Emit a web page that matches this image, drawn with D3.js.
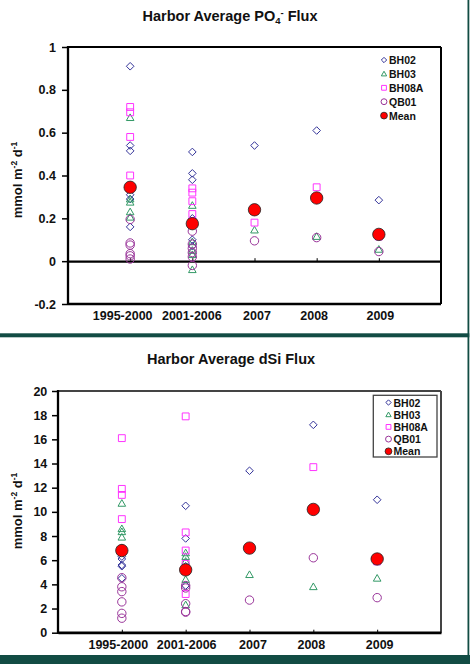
<!DOCTYPE html>
<html>
<head>
<meta charset="utf-8">
<script src="https://cdn.jsdelivr.net/npm/d3@7"></script>
<style>
  body { margin: 0; background: #fff; }
  svg { display: block; font-family: 'Liberation Sans', Arial, sans-serif; font-weight: bold; }
</style>
</head>
<body>
<svg id="chart" width="470" height="664"></svg>
<script>
// Harbor average benthic fluxes — two stacked scatter panels (PO4, dSi)

const CATEGORIES = ['1995-2000', '2001-2006', '2007', '2008', '2009'];
const SERIES_NAMES = ['BH02', 'BH03', 'BH08A', 'QB01', 'Mean'];

// PO4 flux, one inner list per category
const PO4_BH02  = [[0.91, 0.54, 0.515, 0.31, 0.29, 0.16], [0.51, 0.41, 0.38, 0.20, 0.10, 0.07], [0.54], [0.61], [0.285]];
const PO4_BH03  = [[0.67, 0.29, 0.275, 0.23, 0.205], [0.26, 0.09, 0.05, 0.03, -0.04], [0.145], [0.115], [0.055]];
const PO4_BH08A = [[0.72, 0.695, 0.58, 0.40], [0.34, 0.32, 0.28, 0.22], [0.18], [0.345], [0.115]];
const PO4_QB01  = [[0.195, 0.085, 0.075, 0.035, 0.025, 0.01], [0.14, 0.08, 0.06, 0.04, 0.02, -0.02], [0.095], [0.11], [0.045]];
const PO4_MEAN  = [0.345, 0.175, 0.24, 0.295, 0.125];
const PO4_TICKS = [-0.2, 0, 0.2, 0.4, 0.6, 0.8, 1];

// dSi flux
const DSI_BH02  = [[6.3, 6.1, 5.6, 5.5, 4.5], [10.5, 7.8, 5.5, 3.9], [13.4], [17.2], [11.0]];
const DSI_BH03  = [[10.7, 8.6, 8.35, 7.9, 7.0], [6.6, 6.3, 5.9, 4.4, 2.3], [4.8], [3.8], [4.5]];
const DSI_BH08A = [[16.1, 11.9, 11.4, 9.4], [17.9, 8.3, 6.8, 5.7, 3.2], [], [13.7], [5.9]];
const DSI_QB01  = [[4.55, 3.8, 3.4, 2.55, 1.6, 1.2], [3.9, 3.7, 2.4, 1.75, 1.7], [2.7], [6.2], [2.9]];
const DSI_MEAN  = [6.8, 5.2, 7.0, 10.2, 6.1];
const DSI_TICKS = [0, 2, 4, 6, 8, 10, 12, 14, 16, 18, 20];

const STYLE = {
    BH02:  { shape: 'diamond',  color: '#333399' },
    BH03:  { shape: 'triangle', color: '#339966' },
    BH08A: { shape: 'square',   color: '#ff33ff' },
    QB01:  { shape: 'circle',   color: '#993399' },
    Mean:  { shape: 'dot',      color: '#ff0000' },
};

const svg = d3.select('#chart');

// ── Marker shapes ──────────────────────────────────────────────────────────
function shapePath(shape, r) {
    const p = d3.path();
    if (shape === 'diamond') {
        p.moveTo(0, -r); p.lineTo(r, 0); p.lineTo(0, r); p.lineTo(-r, 0); p.closePath();
    } else if (shape === 'triangle') {
        p.moveTo(0, -r); p.lineTo(r, r * 0.75); p.lineTo(-r, r * 0.75); p.closePath();
    } else if (shape === 'square') {
        p.rect(-r * 0.9, -r * 0.9, r * 1.8, r * 1.8);
    } else {
        p.arc(0, 0, r, 0, Math.PI * 2);
    }
    return p.toString();
}

function drawMarker(g, name, x, y, scale) {
    const s = STYLE[name];
    const big = s.shape === 'dot';
    const r = (big ? 6.2 : s.shape === 'circle' ? 4.2 : 3.8) * scale;
    g.append('path')
        .attr('transform', `translate(${x},${y})`)
        .attr('d', shapePath(s.shape, r))
        .attr('fill', big ? s.color : 'none')
        .attr('stroke', big ? '#222' : s.color)
        .attr('stroke-width', big ? 0.8 : 1);
}

// ── Panel ──────────────────────────────────────────────────────────────────
function drawPanel(cfg) {
    const { L, R, T, B } = cfg.box;
    const x = d3.scaleLinear().domain([0, CATEGORIES.length + 1]).range([L, R]);
    const y = d3.scaleLinear().domain(d3.extent(cfg.ticks)).range([B, T]);
    const g = svg.append('g');

    // Title
    const title = g.append('text')
        .attr('x', cfg.titleX).attr('y', cfg.titleY)
        .attr('text-anchor', 'middle').attr('font-size', 14.5)
        .attr('fill', '#111');
    cfg.title(title);

    // Y label
    const yl = g.append('text')
        .attr('transform', `translate(21.5,${cfg.labelY}) rotate(-90)`)
        .attr('text-anchor', 'middle').attr('font-size', 13).attr('fill', '#111');
    yl.append('tspan').text('mmol m');
    yl.append('tspan').attr('font-size', 8.5).attr('dy', -5).text('-2');
    yl.append('tspan').attr('dy', 5).text(' d');
    yl.append('tspan').attr('font-size', 8.5).attr('dy', -5).text('-1');

    // Y axis
    const ya = g.append('g').attr('transform', `translate(${L},0)`)
        .call(d3.axisLeft(y).tickValues(cfg.ticks).tickSize(6).tickPadding(cfg.tickPad).tickFormat(String));
    ya.select('.domain').remove();
    ya.selectAll('line').attr('stroke', '#000').attr('stroke-width', 1.5);
    ya.selectAll('text').attr('font-size', 12.5).attr('fill', '#111').attr('font-family', null);

    // Category labels (Excel nudges the crowded ones sideways)
    const xa = g.append('g').attr('transform', `translate(0,${B})`)
        .call(d3.axisBottom(x).tickValues(d3.range(1, CATEGORIES.length + 1))
            .tickSize(0).tickPadding(7).tickFormat(i => CATEGORIES[i - 1]));
    xa.select('.domain').remove();
    xa.selectAll('text').attr('font-size', 12.5).attr('fill', '#111').attr('font-family', null)
        .attr('dx', (d, i) => cfg.labelNudge[i] || 0);

    // Frame
    g.append('line').attr('x1', L).attr('x2', R).attr('y1', T).attr('y2', T)
        .attr('stroke', cfg.frameTop).attr('stroke-width', 2);
    g.append('line').attr('x1', R).attr('x2', R).attr('y1', T).attr('y2', B)
        .attr('stroke', cfg.frameTop).attr('stroke-width', 2);
    g.append('line').attr('x1', L).attr('x2', R).attr('y1', B).attr('y2', B)
        .attr('stroke', '#000').attr('stroke-width', 2.3);
    g.append('line').attr('x1', L).attr('x2', L).attr('y1', T - 1).attr('y2', B + 1)
        .attr('stroke', '#000').attr('stroke-width', 2.3);

    // Zero line with small inner ticks
    const za = g.append('g').attr('transform', `translate(0,${y(0)})`)
        .call(d3.axisBottom(x).tickValues(d3.range(1, CATEGORIES.length + 1)).tickSize(-3).tickSizeOuter(0).tickFormat(''));
    za.select('.domain').attr('stroke', '#000').attr('stroke-width', 2.3);
    za.selectAll('.tick line').attr('stroke', '#000').attr('stroke-width', 1);

    // Points
    const pts = g.append('g');
    const series = { BH02: cfg.data[0], BH03: cfg.data[1], BH08A: cfg.data[2], QB01: cfg.data[3] };
    for (const name of ['BH02', 'BH03', 'BH08A', 'QB01']) {
        series[name].forEach((vals, ci) => {
            vals.forEach(v => drawMarker(pts, name, x(ci + 1), y(v), 1));
        });
    }
    cfg.mean.forEach((v, ci) => drawMarker(pts, 'Mean', x(ci + 1), y(v), 1));

    // Legend
    const lg = g.append('g');
    const lp = cfg.legend;
    if (lp.box) {
        lg.append('rect').attr('x', lp.box[0]).attr('y', lp.box[1])
            .attr('width', lp.box[2]).attr('height', lp.box[3])
            .attr('fill', '#fff').attr('stroke', '#444').attr('stroke-width', 1.3);
    }
    SERIES_NAMES.forEach((name, i) => {
        const cy = lp.y + i * lp.step;
        drawMarker(lg, name, lp.x, cy, STYLE[name].shape === 'dot' ? 0.55 : 0.7);
        lg.append('text').attr('x', lp.x + 5).attr('y', cy)
            .attr('dominant-baseline', 'central')
            .attr('font-size', 10.5).attr('fill', '#111').text(name);
    });
}

drawPanel({
    box: { L: 68, R: 441, T: 47, B: 304 },
    ticks: PO4_TICKS, tickPad: 6,
    labelNudge: [-8, -1, 2, -3, 1],
    titleX: 230, titleY: 21,
    title: t => {
        t.append('tspan').text('Harbor Average PO');
        t.append('tspan').attr('font-size', 9.5).attr('dy', 3).text('4');
        t.append('tspan').attr('font-size', 9.5).attr('dy', -8).text('-');
        t.append('tspan').attr('dy', 5).text(' Flux');
    },
    labelY: 180,
    frameTop: '#000',
    data: [PO4_BH02, PO4_BH03, PO4_BH08A, PO4_QB01],
    mean: PO4_MEAN,
    legend: { x: 384, y: 60, step: 13.9 },
});

drawPanel({
    box: { L: 58, R: 441, T: 391, B: 632.7 },
    ticks: DSI_TICKS, tickPad: 4.7,
    labelNudge: [-4, 0.5, 3, -2.5, 2],
    titleX: 231, titleY: 364,
    title: t => t.text('Harbor Average dSi Flux'),
    labelY: 511,
    frameTop: '#444',
    data: [DSI_BH02, DSI_BH03, DSI_BH08A, DSI_QB01],
    mean: DSI_MEAN,
    legend: { x: 388.5, y: 402.5, step: 12.2, box: [373.3, 395.3, 63.7, 61.7] },
});

// Slide border bands
const border = svg.append('g').attr('fill', '#124c44');
border.append('rect').attr('x', 467.5).attr('y', 0).attr('width', 1.8).attr('height', 664);
border.append('rect').attr('x', 0).attr('y', 333.3).attr('width', 469.3).attr('height', 4);
border.append('rect').attr('x', 0).attr('y', 655).attr('width', 470).attr('height', 9);
</script>
</body>
</html>
